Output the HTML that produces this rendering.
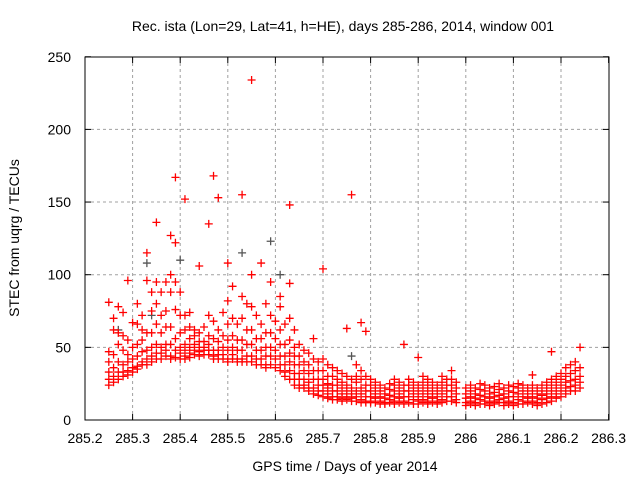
<!DOCTYPE html>
<html><head><meta charset="utf-8"><style>
body{margin:0;background:#fff;font-family:"Liberation Sans",sans-serif}
svg text{font-family:"Liberation Sans",sans-serif;font-size:14px;fill:#000}
</style></head><body>
<svg id="c" width="640" height="480"></svg>
<script>
const xTicks=[285.2,285.3,285.4,285.5,285.6,285.7,285.8,285.9,286,286.1,286.2,286.3];
const yTicks=[0,50,100,150,200,250];
const times=[285.25,285.26,285.27,285.28,285.29,285.30,285.31,285.32,285.33,285.34,285.35,285.36,285.37,285.38,285.39,285.40,285.41,285.42,285.43,285.44,285.45,285.46,285.47,285.48,285.49,285.50,285.51,285.52,285.53,285.54,285.55,285.56,285.57,285.58,285.59,285.60,285.61,285.62,285.63,285.64,285.65,285.66,285.67,285.68,285.69,285.70,285.71,285.72,285.73,285.74,285.75,285.76,285.77,285.78,285.79,285.80,285.81,285.82,285.83,285.84,285.85,285.86,285.87,285.88,285.89,285.90,285.91,285.92,285.93,285.94,285.95,285.96,285.97,285.98,286.00,286.01,286.02,286.03,286.04,286.05,286.06,286.07,286.08,286.09,286.10,286.11,286.12,286.13,286.14,286.15,286.16,286.17,286.18,286.19,286.20,286.21,286.22,286.23,286.24];
const redVals=[
[81,47,40,33,28,24],[70,62,45,36,30,26],[78,60,52,40,33,28],[74,58,48,38,33,30],[96,55,45,40,34,31],
[67,50,42,36,33],[80,66,52,44,37,35],[72,62,55,47,40,38],[115,96,60,48,42,38],[88,75,60,50,44,40],
[136,95,80,66,52,46,42],[88,72,60,50,46,42],[95,75,64,52,48,44],[127,100,88,64,52,44,42],[167,122,95,76,56,48,43],
[88,72,60,50,46,42],[152,72,62,52,48,44,42],[74,64,56,50,46,43],[62,58,52,48,45],[106,60,54,50,47,44],
[64,54,50,48,45],[135,72,58,52,48,45],[168,68,56,48,44,42],[153,62,54,48,45,42],[74,58,50,45,42],
[108,82,66,55,48,42,40],[92,70,58,50,45,42],[66,55,48,42,40],[155,85,70,55,48,42,40],[80,62,52,44,40],
[234,100,78,62,52,44,40],[72,56,48,42,38],[108,66,56,48,42,38],[80,60,50,44,38,36],[95,72,60,50,44,38],
[68,56,48,42,36],[85,78,62,52,44,38,34],[66,52,44,38,33,30],[148,94,70,55,46,40,34,28],[62,50,44,38,32,28,24],
[52,44,38,32,28,24,22],[48,40,34,28,24,22],[46,38,32,26,22,20],[56,42,34,28,22,18],[40,34,28,24,20,17],
[104,42,34,28,24,20,16],[38,30,25,22,18,15],[36,30,24,20,16,14],[34,28,24,20,16,14],[32,26,22,18,15,13],
[63,30,24,20,16,14],[155,28,22,18,15,13],[38,30,26,20,16,13],[67,34,28,22,18,14,12],[61,30,24,20,16,13,12],
[28,24,20,16,13,12],[26,22,18,15,12],[24,20,16,13,11],[22,18,15,12,11],[25,21,17,14,12],
[28,24,20,16,13,11],[26,22,18,15,12],[52,24,20,16,13,11],[28,24,20,16,12],[26,22,18,14,11],
[43,24,20,16,13,11],[30,26,22,18,14,12],[28,24,20,16,13,11],[26,22,18,15,12],[24,20,16,13,11],
[30,26,22,18,14,12],[28,24,20,16,13],[34,28,24,20,16,13],[26,22,18,14,12],
[22,18,15,12,10],[24,20,16,13,11],[22,18,15,12,10],[25,21,17,14,11],[24,20,16,13,11],
[22,18,15,12,10],[23,19,16,13,11],[25,21,17,14,12],[22,18,15,12,10],[24,20,16,13,11],
[23,19,16,12,10],[25,22,18,14,11],[24,20,16,13,11],[22,18,15,12],[31,24,20,16,13,11],
[22,18,15,12,10],[24,20,17,14,11],[26,22,18,15,12],[47,28,24,20,16,13],[30,26,22,18,15],
[32,28,24,20,16],[36,30,26,22,18],[38,32,27,23,20],[40,34,28,24,20],[50,36,30,26,22]
];
const grayT=[285.27,285.33,285.34,285.40,285.53,285.59,285.61,285.76];
const grayV=[62,108,72,110,115,123,100,44];
const X=v=>85+(v-285.2)*476, Y=v=>420-v*1.453;
const svg=document.getElementById('c'), NS='http://www.w3.org/2000/svg';
function el(t,a,p){const e=document.createElementNS(NS,t);for(const k in a)e.setAttribute(k,a[k]);(p||svg).appendChild(e);return e;}
const grid=el('g',{});


xTicks.forEach(t=>{const x=X(t);
 if(t>285.2&&t<286.3)el('line',{x1:x,x2:x,y1:57,y2:420,stroke:'#a0a0a0','stroke-dasharray':'3,3'},grid);
 el('line',{x1:x,x2:x,y1:420,y2:414,stroke:'#000'},grid);el('line',{x1:x,x2:x,y1:57,y2:63,stroke:'#000'},grid);
 const tx=el('text',{x:x,y:443,'text-anchor':'middle'});tx.textContent=String(t);
 
 });
yTicks.forEach(t=>{const y=Y(t);
 if(t>0&&t<250)el('line',{x1:85,x2:609,y1:y,y2:y,stroke:'#a0a0a0','stroke-dasharray':'3,3'},grid);
 el('line',{x1:85,x2:91,y1:y,y2:y,stroke:'#000'},grid);el('line',{x1:609,x2:603,y1:y,y2:y,stroke:'#000'},grid);
 const tx=el('text',{x:71,y:y+5,'text-anchor':'end'});tx.textContent=String(t);
 
 });
const frame=el('rect',{x:85,y:57,width:524,height:363,fill:'none',stroke:'#000'});


function plus(x,y,c,g){el('path',{d:`M${x-4} ${y}h8M${x} ${y-4}v8`,stroke:c,'stroke-width':1.3},g);}
const gg=el('g',{});


grayT.forEach((t,i)=>plus(X(t),Y(grayV[i]),'#555',gg));
const rg=el('g',{});


times.forEach((t,i)=>(redVals[i]||[]).forEach(v=>plus(X(t),Y(v),'#f00',rg)));
const ttl=el('text',{x:343,y:31,'text-anchor':'middle'});ttl.textContent='Rec. ista (Lon=29, Lat=41, h=HE), days 285-286, 2014, window 001';


const xl=el('text',{x:345,y:471,'text-anchor':'middle'});xl.textContent='GPS time / Days of year 2014';


const yl=el('text',{x:19,y:238,'text-anchor':'middle',transform:'rotate(-90 19 238)'});yl.textContent='STEC from uqrg / TECUs';


</script></body></html>
